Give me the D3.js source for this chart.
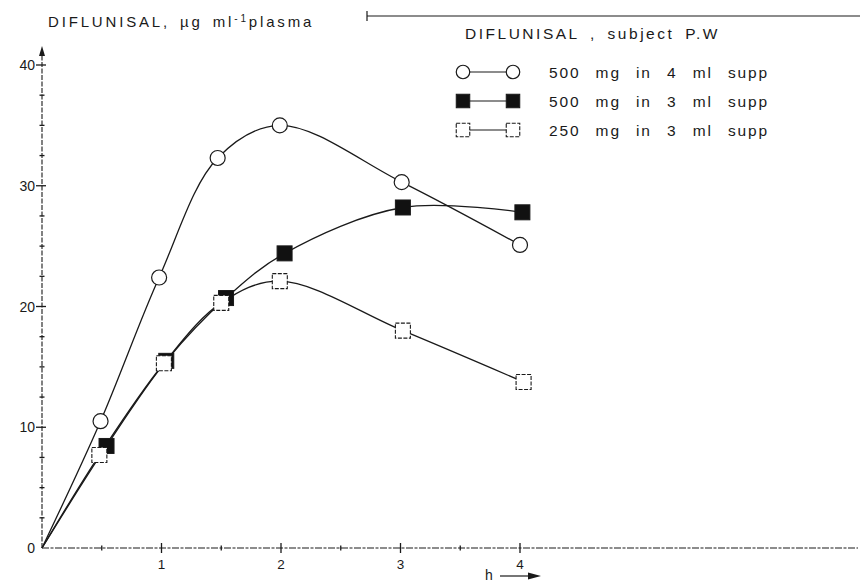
<!DOCTYPE html>
<html>
<head>
<meta charset="utf-8">
<script src="https://cdn.jsdelivr.net/npm/d3@7"></script>
<style>
  body { margin:0; background:#fff; }
  text { font-family:"Liberation Sans", Arial, sans-serif; fill:#1a1a1a; }
</style>
</head>
<body>
<svg id="chart" width="860" height="582"></svg>
<script>
// ---- data (hours, ug/ml) ----
var seriesNames = ["500 mg in 4 ml supp", "500 mg in 3 ml supp", "250 mg in 3 ml supp"];
var seriesMarks = ["circle", "filled", "square"];

var timesA = [0, 0.49, 0.98, 1.47, 1.99, 3.01, 4.0];
var valuesA = [0, 10.5, 22.4, 32.3, 35.0, 30.3, 25.1];

var timesB = [0, 0.54, 1.04, 1.54, 2.03, 3.02, 4.02];
var valuesB = [0, 8.45, 15.5, 20.7, 24.4, 28.2, 27.8];

var timesC = [0, 0.48, 1.02, 1.5, 1.99, 3.02, 4.03];
var valuesC = [0, 7.7, 15.3, 20.3, 22.1, 18.0, 13.75];

var xTicks = [1, 2, 3, 4];
var yTicks = [0, 10, 20, 30, 40];

var svg = d3.select("#chart");

// origin sits at 42,548
var x = d3.scaleLinear().domain([0, 4]).range([42, 520]);
var y = d3.scaleLinear().domain([0, 40]).range([548, 65]);

var INK = "#1a1a1a";

// spread letters so a label covers the same width as in the scan
function _fitWidth(sel, target) {
  var n = sel.text().length;
  var w = sel.node().getComputedTextLength();
  sel.attr("letter-spacing", Math.max(0, (target - w) / n));
}

// ---------------- axes ----------------
var gAxis = svg.append("g").attr("id", "axes");

// y axis with arrow on top
gAxis.append("line")
  .attr("x1", x(0)).attr("x2", x(0))
  .attr("y1", y(0)).attr("y2", 52)
  .attr("stroke", INK).attr("stroke-width", 1.1).attr("stroke-dasharray", "5,1.5");
gAxis.append("path")
  .attr("d", "M" + x(0) + ",46 L" + (x(0) - 3) + ",56 L" + (x(0) + 3) + ",56 Z")
  .attr("fill", INK);

// x axis runs all the way to the right edge
gAxis.append("line")
  .attr("x1", x(0)).attr("x2", 858)
  .attr("y1", y(0)).attr("y2", y(0))
  .attr("stroke", INK).attr("stroke-width", 1.1).attr("stroke-dasharray", "7,1.5,3,1.5");

// minor ticks every 2.5 on y, every 0.5 h on x
var yMinor = d3.range(2.5, 40.1, 2.5);
gAxis.selectAll(".ymin").data(yMinor).enter().append("line")
  .attr("x1", function(d){ return x(0) - (d % 10 === 0 ? 6 : 2.5); })
  .attr("x2", function(d){ return x(0) + (d % 10 === 0 ? 4 : 2.5); })
  .attr("y1", function(d){ return y(d); }).attr("y2", function(d){ return y(d); })
  .attr("stroke", INK).attr("stroke-width", 1.3);

var xMinor = d3.range(0.5, 4.01, 0.5);
gAxis.selectAll(".xmin").data(xMinor).enter().append("line")
  .attr("x1", function(d){ return x(d); }).attr("x2", function(d){ return x(d); })
  .attr("y1", function(d){ return y(0) - (d % 1 === 0 ? 5 : 2.5); })
  .attr("y2", function(d){ return y(0) + (d % 1 === 0 ? 5 : 2.5); })
  .attr("stroke", INK).attr("stroke-width", 1.3);

gAxis.selectAll(".ylab").data(yTicks).enter().append("text")
  .attr("x", x(0) - 7).attr("y", function(d){ return y(d) + 5; })
  .attr("text-anchor", "end").attr("font-size", 14)
  .text(function(d){ return d; });

gAxis.selectAll(".xlab").data(xTicks).enter().append("text")
  .attr("x", function(d){ return x(d); }).attr("y", y(0) + 21)
  .attr("text-anchor", "middle").attr("font-size", 13.5)
  .text(function(d){ return d; });

// h ----> label
gAxis.append("text").attr("x", 485).attr("y", 580).attr("font-size", 14).text("h");
gAxis.append("line").attr("x1", 500).attr("x2", 530).attr("y1", 576).attr("y2", 576)
  .attr("stroke", INK).attr("stroke-width", 1.2);
gAxis.append("path").attr("d", "M541,576 L528,572.5 L528,579.5 Z").attr("fill", INK);

// ---------------- titles ----------------
var yTitle = svg.append("text").attr("x", 48).attr("y", 27).attr("font-size", 15)
  .attr("word-spacing", 3)
  .html('DIFLUNISAL, \u00b5g  ml<tspan dy="-5" font-size="10">-1</tspan><tspan dy="5">plasma</tspan>');
_fitWidth(yTitle, 269);

svg.append("line").attr("x1", 367).attr("x2", 860).attr("y1", 16).attr("y2", 16)
  .attr("stroke", INK).attr("stroke-width", 1.2);
svg.append("line").attr("x1", 367).attr("x2", 367).attr("y1", 11).attr("y2", 21)
  .attr("stroke", INK).attr("stroke-width", 1.2);

// ---------------- series ----------------
var series = [
  {name: seriesNames[0], mark: seriesMarks[0], t: timesA, v: valuesA},
  {name: seriesNames[1], mark: seriesMarks[1], t: timesB, v: valuesB},
  {name: seriesNames[2], mark: seriesMarks[2], t: timesC, v: valuesC}
];

var line = d3.line()
  .x(function(d){ return x(d[0]); })
  .y(function(d){ return y(d[1]); })
  .curve(d3.curveCatmullRom.alpha(0.5));

function drawMark(g, kind, cx, cy, s) {
  if (kind === "circle") {
    g.append("circle").attr("cx", cx).attr("cy", cy).attr("r", s * 0.5)
      .attr("fill", "#fff").attr("stroke", INK).attr("stroke-width", 1.2);
  } else {
    g.append("rect").attr("x", cx - s / 2).attr("y", cy - s / 2)
      .attr("width", s).attr("height", s)
      .attr("fill", kind === "filled" ? "#111" : "#fff")
      .attr("stroke", INK).attr("stroke-width", kind === "filled" ? 1 : 1.1)
      .attr("stroke-dasharray", kind === "filled" ? null : "4,1.5");
  }
}

var gSeries = svg.append("g").attr("id", "series");
series.forEach(function(s){
  var pts = s.t.map(function(t, i){ return [t, s.v[i]]; });
  gSeries.append("path").datum(pts)
    .attr("d", line).attr("fill", "none")
    .attr("stroke", INK).attr("stroke-width", 1.3);
});
// markers on top (origin point has no mark)
series.forEach(function(s){
  var g = gSeries.append("g");
  s.t.forEach(function(t, i){
    if (i === 0) return;
    drawMark(g, s.mark, x(t), y(s.v[i]), 15);
  });
});

// ---------------- legend ----------------
var gLeg = svg.append("g").attr("id", "legend");
var legTitle = gLeg.append("text").attr("x", 465).attr("y", 39).attr("font-size", 15.5)
  .attr("word-spacing", 4)
  .text("DIFLUNISAL ,  subject  P.W");
_fitWidth(legTitle, 260);

var legY = [72, 101, 130];
series.forEach(function(s, i){
  gLeg.append("line").attr("x1", 463).attr("x2", 513)
    .attr("y1", legY[i]).attr("y2", legY[i])
    .attr("stroke", INK).attr("stroke-width", 1.2);
  drawMark(gLeg, s.mark, 463, legY[i], 13.5);
  drawMark(gLeg, s.mark, 513, legY[i], 13.5);
  var t = gLeg.append("text").attr("x", 549).attr("y", legY[i] + 5.5)
    .attr("font-size", 15.5).attr("word-spacing", 9)
    .text(s.name);
  _fitWidth(t, 220);
});
</script>
</body>
</html>
